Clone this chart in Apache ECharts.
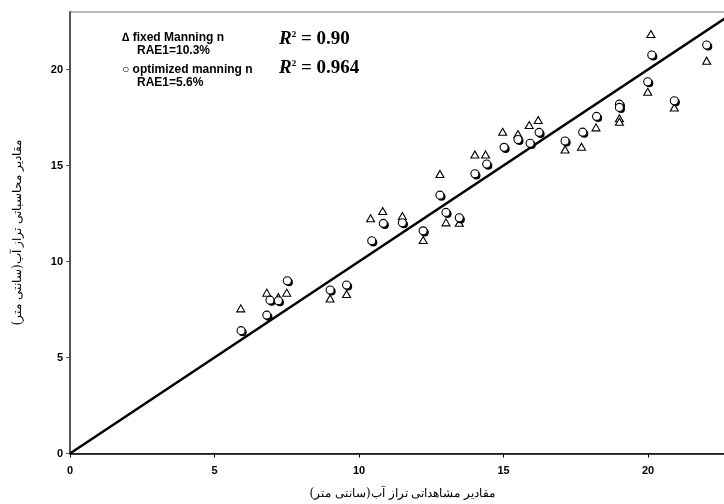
<!DOCTYPE html>
<html>
<head>
<meta charset="utf-8">
<script src="https://cdn.jsdelivr.net/npm/echarts@6/dist/echarts.min.js"></script>
<style>html,body{margin:0;padding:0;background:#fff}#c{width:724px;height:504px}</style>
</head>
<body>
<div id="c"></div>
<script>
// fixed Manning n (triangles)
var triX = [5.91, 6.81, 7.21, 7.50, 9.00, 9.57, 10.40, 10.82, 11.50, 12.22, 12.80, 13.01, 13.47, 14.01, 14.38, 14.97, 15.50, 15.89, 16.20, 17.13, 17.70, 18.20, 19.01, 19.01, 19.99, 20.10, 20.91, 22.03];
var triY = [7.56, 8.38, 8.14, 8.38, 8.08, 8.31, 12.25, 12.63, 12.37, 11.12, 14.56, 12.04, 12.02, 15.58, 15.58, 16.76, 16.64, 17.11, 17.37, 15.84, 15.98, 16.99, 17.46, 17.28, 18.84, 21.85, 18.03, 20.46];
// optimized manning n (circles)
var cirX = [5.92, 6.81, 6.92, 7.21, 7.52, 9.00, 9.57, 10.44, 10.84, 11.50, 12.22, 12.80, 13.01, 13.47, 14.01, 14.42, 15.02, 15.50, 15.92, 16.23, 17.13, 17.74, 18.22, 19.01, 19.01, 19.99, 20.13, 20.91, 22.03];
var cirY = [6.40, 7.21, 7.99, 7.96, 9.00, 8.52, 8.78, 11.08, 11.99, 12.02, 11.60, 13.46, 12.56, 12.28, 14.57, 15.08, 15.95, 16.36, 16.16, 16.73, 16.28, 16.74, 17.56, 18.20, 18.03, 19.37, 20.76, 18.38, 21.28];
// 1:1 line
var lineX = [0, 23];
var lineY = [0, 23];
var xTicks = [0, 5, 10, 15, 20];
var yTicks = [0, 5, 10, 15, 20];

function zip(a, b) { return a.map(function (v, i) { return [v, b[i]]; }); }

var chart = echarts.init(document.getElementById('c'), null, {renderer: 'canvas'});
var labelFont = {fontFamily: 'Liberation Sans, Arial, sans-serif', fontWeight: 'bold', fontSize: 11, color: '#000'};
var legFont = 'bold 12px "Liberation Sans", Arial, sans-serif';
var rStyle = {
  r: {fontFamily: 'Liberation Serif, serif', fontStyle: 'italic', fontWeight: 'bold', fontSize: 19, fill: '#000'},
  s: {fontFamily: 'Liberation Serif, serif', fontWeight: 'bold', fontSize: 9, verticalAlign: 'top', fill: '#000', padding: [0, 0, 9, 0]},
  t: {fontFamily: 'Liberation Serif, serif', fontWeight: 'bold', fontSize: 19, fill: '#000'}
};
chart.setOption({
  animation: false,
  backgroundColor: '#fff',
  grid: {left: 70, top: 12, right: -10.7, bottom: 50.5, containLabel: false, outerBoundsMode: 'none',
         show: true, borderColor: '#777', borderWidth: 1, backgroundColor: 'transparent'},
  xAxis: {
    type: 'value', min: 0, max: 23, interval: 5,
    axisLine: {show: true, onZero: false, lineStyle: {color: '#000', width: 1.5}},
    axisTick: {show: true, length: 4, customValues: xTicks, lineStyle: {color: '#000'}},
    splitLine: {show: false},
    axisLabel: Object.assign({margin: 12, customValues: xTicks}, labelFont),
    name: 'مقادیر مشاهداتی تراز آب(سانتی متر)',
    nameLocation: 'middle', nameGap: 34,
    nameTextStyle: {fontFamily: 'DejaVu Serif, Liberation Serif, serif', fontSize: 12, color: '#000'}
  },
  yAxis: {
    type: 'value', min: 0, max: 23, interval: 5,
    axisLine: {show: true, onZero: false, lineStyle: {color: '#555', width: 2}},
    axisTick: {show: true, length: 4, customValues: yTicks, lineStyle: {color: '#555'}},
    splitLine: {show: false},
    axisLabel: Object.assign({margin: 7, customValues: yTicks}, labelFont),
    name: 'مقادیر محاسباتی تراز آب(سانتی متر)',
    nameLocation: 'middle', nameGap: 46,
    nameTextStyle: {fontFamily: 'DejaVu Serif, Liberation Serif, serif', fontSize: 12, color: '#000'}
  },
  series: [
    {type: 'line', data: zip(lineX, lineY), symbol: 'none', lineStyle: {color: '#000', width: 2.5}, z: 1, silent: true},
    {type: 'scatter', data: zip(triX, triY), symbol: 'triangle', symbolSize: [8, 7],
     itemStyle: {color: '#fff', borderColor: '#000', borderWidth: 1.1, opacity: 1}, z: 3},
    {type: 'scatter', data: zip(cirX, cirY), symbol: 'circle', symbolSize: 8, symbolOffset: [1.6, 1.6],
     itemStyle: {color: '#000', borderWidth: 0, opacity: 1}, z: 4},
    {type: 'scatter', data: zip(cirX, cirY), symbol: 'circle', symbolSize: 8,
     itemStyle: {color: '#fff', borderColor: '#000', borderWidth: 1.1, opacity: 1}, z: 5}
  ],
  graphic: [
    {type: 'text', left: 122, top: 32, style: {text: '∆ fixed Manning n', font: legFont, fill: '#000'}},
    {type: 'text', left: 137, top: 45, style: {text: 'RAE1=10.3%', font: legFont, fill: '#000'}},
    {type: 'text', left: 122, top: 64, style: {text: '○ optimized manning n', font: legFont, fill: '#000'}},
    {type: 'text', left: 137, top: 77, style: {text: 'RAE1=5.6%', font: legFont, fill: '#000'}},
    {type: 'text', left: 279, top: 30, style: {text: '{r|R}{s|2}{t| = 0.90}', rich: rStyle}},
    {type: 'text', left: 279, top: 59, style: {text: '{r|R}{s|2}{t| = 0.964}', rich: rStyle}}
  ]
});
</script>
</body>
</html>
